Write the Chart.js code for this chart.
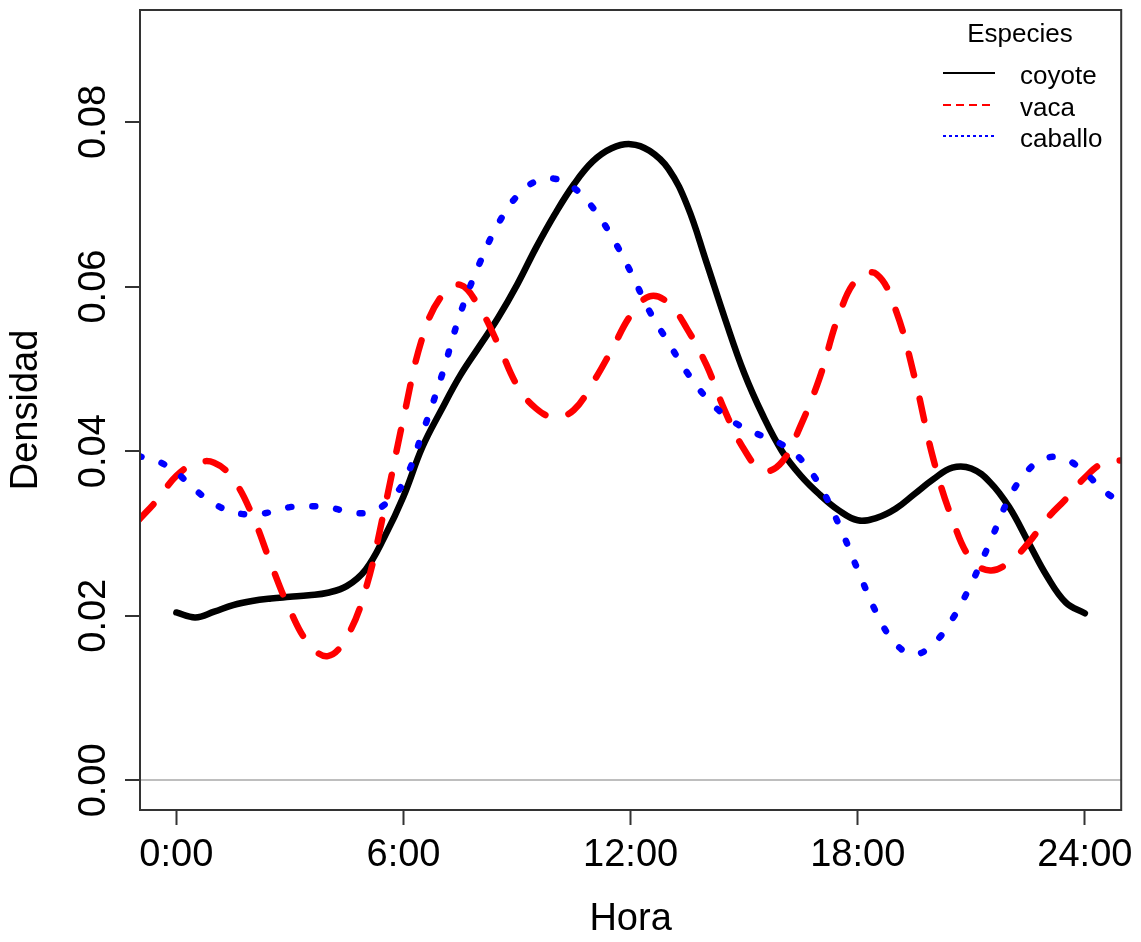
<!DOCTYPE html>
<html>
<head>
<meta charset="utf-8">
<title>Densidad de actividad</title>
<script src="https://cdn.jsdelivr.net/npm/chart.js@4"></script>
<style>
    body { margin: 0; background: #fff; }
    #wrap { width: 1141px; height: 942px; }
</style>
</head>
<body>
<div id="wrap"><canvas id="densityChart" width="1141" height="942"></canvas></div>
<script>
/* ---- data ---- */
const seriesNames = ['coyote', 'vaca', 'caballo'];

const hoursDay = [0, 0.5, 1, 1.5, 2, 2.5, 3, 3.5, 4, 4.5, 5, 5.5, 6, 6.5, 7, 7.5, 8, 8.5, 9, 9.5,
    10, 10.5, 11, 11.5, 12, 12.5, 13, 13.5, 14, 14.5, 15, 15.5, 16, 16.5, 17, 17.5, 18, 18.5, 19, 19.5,
    20, 20.5, 21, 21.5, 22, 22.5, 23, 23.5, 24];

const hoursWide = [-1, -0.5, 0, 0.5, 1, 1.5, 2, 2.5, 3, 3.5, 4, 4.5, 5, 5.5, 6, 6.5, 7, 7.5, 8, 8.5, 9, 9.5,
    10, 10.5, 11, 11.5, 12, 12.5, 13, 13.5, 14, 14.5, 15, 15.5, 16, 16.5, 17, 17.5, 18, 18.5, 19, 19.5,
    20, 20.5, 21, 21.5, 22, 22.5, 23, 23.5, 24, 24.5, 25];

const coyoteValues = [0.0204, 0.0198, 0.0205, 0.0213, 0.0218, 0.0221, 0.0223, 0.0225, 0.0228, 0.0236,
    0.0256, 0.0296, 0.0345, 0.0405, 0.0450, 0.0492, 0.0527, 0.0562, 0.0602, 0.0647,
    0.0688, 0.0724, 0.0752, 0.0768, 0.0773, 0.0765, 0.0743, 0.0698, 0.0630, 0.0560,
    0.0495, 0.0443, 0.0400, 0.0370, 0.0347, 0.0328, 0.0316, 0.0319, 0.0330, 0.0348,
    0.0366, 0.0380, 0.0379, 0.0362, 0.0332, 0.0290, 0.0248, 0.0216, 0.0203];

const vacaValues = [0.0316, 0.0341, 0.0370, 0.0385, 0.0386, 0.0366, 0.0323, 0.0263, 0.0207, 0.0166,
    0.0151, 0.0174, 0.0232, 0.0330, 0.0440, 0.0538, 0.0588, 0.0602, 0.0575, 0.0530,
    0.0480, 0.0452, 0.0441, 0.0450, 0.0483, 0.0523, 0.0565, 0.0588, 0.0580, 0.0548,
    0.0505, 0.0448, 0.0402, 0.0376, 0.0387, 0.0432, 0.0490, 0.0565, 0.0610, 0.0615,
    0.0572, 0.0490, 0.0390, 0.0317, 0.0268, 0.0255, 0.0265, 0.0288, 0.0318, 0.0342,
    0.0368, 0.0386, 0.0389];

const caballoValues = [0.0394, 0.0388, 0.0374, 0.0353, 0.0336, 0.0326, 0.0323, 0.0326, 0.0332, 0.0333,
    0.0332, 0.0327, 0.0325, 0.0335, 0.0362, 0.0422, 0.0490, 0.0567, 0.0627, 0.0676,
    0.0710, 0.0728, 0.0731, 0.0720, 0.0696, 0.0661, 0.0618, 0.0570, 0.0532, 0.0495,
    0.0465, 0.0443, 0.0428, 0.0418, 0.0408, 0.0390, 0.0358, 0.0311, 0.0256, 0.0203,
    0.0166, 0.0153, 0.0166, 0.0196, 0.0239, 0.0290, 0.0343, 0.0377, 0.0392, 0.0390,
    0.0374, 0.0352, 0.0336];

const xTickValues = [0, 6, 12, 18, 24];
const xTickLabels = ['0:00', '6:00', '12:00', '18:00', '24:00'];
const yTickValues = [0, 0.02, 0.04, 0.06, 0.08];
const yTickLabels = ['0.00', '0.02', '0.04', '0.06', '0.08'];

const legendTitle = 'Especies';
const xTitle = 'Hora';
const yTitle = 'Densidad';

/* ---- helpers ---- */
const FONT = '"Liberation Sans", Arial, sans-serif';
const AXIS_COLOR = '#333333';

function toPoints(xs, ys) {
    return xs.map((x, i) => ({ x: x, y: ys[i] }));
}

const lineStyles = {
    coyote:  { color: '#000000', dash: [],       legendDash: [] },
    vaca:    { color: '#ff0000', dash: [22, 24], legendDash: [8, 5] },
    caballo: { color: '#0000ff', dash: [3, 21],  legendDash: [3, 3] }
};

function makeDataset(name, xs, ys, order) {
    const st = lineStyles[name];
    return {
        label: name,
        data: toPoints(xs, ys),
        borderColor: st.color,
        backgroundColor: st.color,
        borderWidth: 6.5,
        borderDash: st.dash,
        borderCapStyle: 'round',
        borderJoinStyle: 'round',
        pointRadius: 0,
        tension: 0.4,
        fill: false,
        clip: 0,
        order: order
    };
}

/* ---- plugins: R-like box, rotated y labels, legend ---- */
const rStylePlugin = {
    id: 'rStyle',
    afterDraw(chart) {
        const ctx = chart.ctx;
        const area = chart.chartArea;
        const yScale = chart.scales.y;

        ctx.save();
        // plot frame
        ctx.strokeStyle = AXIS_COLOR;
        ctx.lineWidth = 2;
        ctx.strokeRect(area.left, area.top, area.right - area.left, area.bottom - area.top);

        // y tick labels, rotated like R's las = 0
        ctx.fillStyle = '#000';
        ctx.font = '38px ' + FONT;
        ctx.textAlign = 'center';
        ctx.textBaseline = 'alphabetic';
        yTickValues.forEach((v, i) => {
            const py = yScale.getPixelForValue(v);
            ctx.save();
            ctx.translate(area.left - 35, py);
            ctx.rotate(-Math.PI / 2);
            ctx.fillText(yTickLabels[i], 0, 0);
            ctx.restore();
        });

        // legend
        const lx0 = 943, lx1 = 995, tx = 1020;
        ctx.font = '26px ' + FONT;
        ctx.textAlign = 'center';
        ctx.fillText(legendTitle, 1020, 42);
        ctx.textAlign = 'left';
        const rowsY = [73, 105, 136];
        seriesNames.forEach((name, i) => {
            const st = lineStyles[name];
            ctx.strokeStyle = st.color;
            ctx.lineWidth = 2;
            ctx.lineCap = 'butt';
            ctx.setLineDash(st.legendDash);
            ctx.beginPath();
            ctx.moveTo(lx0, rowsY[i]);
            ctx.lineTo(lx1, rowsY[i]);
            ctx.stroke();
            ctx.setLineDash([]);
            ctx.fillStyle = '#000';
            ctx.fillText(name, tx, rowsY[i] + 11);
        });
        ctx.restore();
    }
};

/* ---- chart ---- */
new Chart(document.getElementById('densityChart'), {
    type: 'line',
    data: {
        datasets: [
            makeDataset('coyote', hoursDay, coyoteValues, 3),
            makeDataset('vaca', hoursWide, vacaValues, 2),
            makeDataset('caballo', hoursWide, caballoValues, 1)
        ]
    },
    options: {
        responsive: false,
        animation: false,
        devicePixelRatio: 1,
        layout: { padding: { top: 10, right: 16, left: 0, bottom: 0 } },
        plugins: {
            legend: { display: false },
            tooltip: { enabled: false }
        },
        scales: {
            x: {
                type: 'linear',
                min: -0.96,
                max: 24.96,
                afterBuildTicks: scale => { scale.ticks = xTickValues.map(v => ({ value: v })); },
                afterFit: scale => { scale.height = 132; },
                border: { display: false },
                grid: {
                    drawOnChartArea: false,
                    drawTicks: true,
                    tickLength: 15,
                    tickWidth: 2,
                    tickColor: AXIS_COLOR
                },
                ticks: {
                    maxRotation: 0,
                    autoSkip: false,
                    padding: 8,
                    color: '#000',
                    font: { family: FONT, size: 38 },
                    callback: value => xTickLabels[xTickValues.indexOf(value)]
                },
                title: {
                    display: true,
                    text: xTitle,
                    color: '#000',
                    font: { family: FONT, size: 38 },
                    padding: { top: 0, bottom: 0 }
                }
            },
            y: {
                type: 'linear',
                min: -0.0036,
                max: 0.0936,
                afterBuildTicks: scale => { scale.ticks = yTickValues.map(v => ({ value: v })); },
                afterFit: scale => { scale.width = 140; },
                border: { display: false },
                grid: {
                    drawTicks: true,
                    tickLength: 15,
                    tickWidth: 2,
                    tickColor: AXIS_COLOR,
                    lineWidth: 2,
                    color: c => (c.tick && c.tick.value === 0) ? '#bebebe' : 'rgba(0,0,0,0)'
                },
                ticks: { display: false },
                title: {
                    display: true,
                    text: yTitle,
                    color: '#000',
                    font: { family: FONT, size: 38 },
                    padding: { top: 4, bottom: 4 }
                }
            }
        }
    },
    plugins: [rStylePlugin]
});
</script>
</body>
</html>
